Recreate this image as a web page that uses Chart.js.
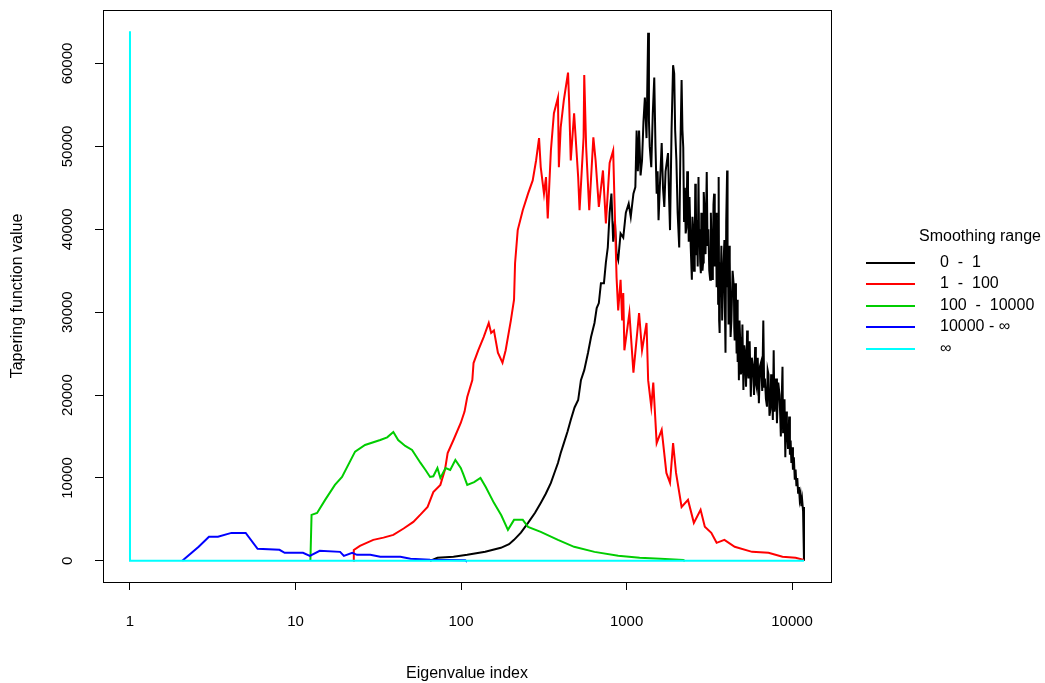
<!DOCTYPE html>
<html>
<head>
<meta charset="utf-8">
<script src="https://cdn.jsdelivr.net/npm/chart.js@4.4.1/dist/chart.umd.min.js"></script>
<style>
    body { margin: 0; background: #fff; }
    #wrap { width: 1045px; height: 683px; position: relative; }
</style>
</head>
<body>
<div id="wrap"><canvas id="tapering"></canvas></div>
<script>
// eigenvalue index (x) and tapering value (y)
const blackX = [65, 72, 90, 109, 140, 174, 195, 209, 230, 254, 280, 303, 325, 349, 365, 385, 400, 418, 440, 460, 485, 510, 530, 555, 585, 610, 640, 660, 680, 700, 730, 750, 770, 790, 810, 830, 850, 870, 890, 920, 955, 990, 1030, 1060, 1100, 1130, 1150, 1170, 1190, 1215, 1240, 1265, 1290, 1320, 1350, 1365, 1380, 1410, 1440, 1470, 1495, 1520, 1540, 1560, 1595, 1630, 1660, 1690, 1720, 1780, 1805, 1830, 1870, 1910, 1940, 1965,
    2000, 2035, 2080, 2115, 2150, 2175, 2200, 2225, 2250, 2275, 2300, 2325, 2350, 2375, 2400, 2440, 2480, 2500, 2530, 2555, 2580, 2600, 2620, 2640, 2660, 2690, 2720, 2740, 2760, 2785, 2810, 2830, 2850, 2875, 2900, 2925, 2950, 3000, 3050, 3085, 3120, 3160, 3200, 3230, 3260, 3290, 3320, 3350, 3380, 3410, 3440, 3470, 3500, 3525, 3550, 3575, 3600, 3625, 3650, 3675, 3700, 3740, 3780, 3840, 3900, 3930, 3960, 4000, 4050, 4075, 4100, 4120, 4140, 4170, 4200, 4250, 4300, 4370, 4450, 4475, 4500, 4540, 4580, 4620, 4650, 4680, 4700, 4735, 4770, 4810, 4850, 4900, 4950, 5010, 5080, 5140, 5200, 5270, 5350, 5400, 5450, 5540, 5630, 5710, 5800, 5890, 5980, 6040, 6100, 6200, 6300, 6400, 6500, 6600, 6700, 6780, 6850, 6950, 7050, 7120, 7200, 7300, 7400, 7470, 7550, 7650, 7740, 7820, 7900, 8000, 8100, 8250, 8400, 8550, 8750, 8820, 8900, 9000, 9100, 9200, 9300, 9450, 9600, 9700, 9800, 9900, 10000, 10120, 10250, 10380, 10500, 10620, 10750, 10870, 11000, 11120, 11250, 11380, 11500, 11650, 11800, 11800];
const blackY = [0, 360, 480, 720, 1100, 1570, 2000, 2530, 3400, 4580, 5800, 6990, 8100, 9400, 10500, 11800, 13000, 14200, 15600, 17000, 18500, 19400, 21800, 23000, 25100, 27000, 28700, 30500, 31100, 33500, 33500, 36000, 37800, 42000, 44300, 38500, 41000, 37000, 36300, 39500, 39000, 42000, 43100, 41500, 44300, 45100, 51900, 47000, 51900, 46500, 48300, 53000, 55900, 51000, 63700, 53100, 50000, 47500, 54000, 58300, 50000, 44300, 47000, 41100, 46000, 50400, 45000, 42700, 47000, 49200, 44000, 39900, 52000, 59800, 58800, 52000,
    48300, 42000, 37800, 50000, 58000, 52000, 49900, 41000, 45000, 39500, 40200, 47000, 45000, 38500, 43900, 38000, 33900, 41500, 40000, 35000, 36000, 45500, 44000, 37000, 41100, 35500, 46300, 39000, 40000, 36000, 34700, 42000, 40000, 35000, 36000, 44500, 43000, 37000, 46900, 38000, 40000, 35000, 33900, 42000, 38000, 34000, 36000, 43000, 44300, 35500, 38000, 42000, 33000, 41000, 40000, 31000, 46300, 29000, 27500, 36000, 33000, 38000, 29000, 35000, 38700, 30000, 25100, 41000, 47100, 33000, 36000, 28500, 31500, 38000, 36300, 27000, 29000, 35000, 33000, 28000, 26600, 33500, 30000, 25000, 31500, 29500, 24000, 28000, 21800, 29000, 27000, 22500, 23000, 28500, 20600, 26000, 25000, 21000, 27800, 23000, 22000, 26500, 19800, 24500, 23500, 20000, 25800, 21500, 21000, 24500, 19000, 23500, 24000, 20500, 29000, 21000, 22000, 19500, 18600, 23000, 22500, 17500, 18300, 22500, 21000, 17000, 25400, 18000, 19000, 22000, 16600, 21500, 20000, 15000, 23400, 15500, 16000, 19500, 12500, 18000, 16000, 13500, 17400, 12800, 14500, 11800, 13700, 11000, 12500, 9800, 11000, 9000, 10000, 8200, 8900, 7400, 8000, 6600, 7350, 6000, 6500, 0];

const redX = [22.3, 22.5, 24.5, 29.5, 34, 39, 45, 51.5, 57, 62.8, 68, 75, 80, 83, 90, 99.6, 105, 109, 117, 119, 127, 137, 147, 152, 158, 167, 178, 186, 200, 209, 212, 220, 236, 254, 271, 284, 296, 303, 317, 326, 334, 349, 364, 385, 390, 400, 418, 443, 450, 460, 482, 510, 520, 550, 555, 570, 595, 630, 650, 680, 720, 750, 790, 830, 845, 870, 890, 920, 940, 955, 970, 1040, 1100, 1190, 1240, 1320, 1350, 1410, 1450, 1520, 1630, 1740, 1830, 1910, 1990, 2150, 2350, 2550, 2800, 2970, 3250, 3500, 3900, 4500, 5730, 7200, 8750, 10500, 11800];
const redY = [0, 1300, 1810, 2530, 2800, 3130, 3900, 4700, 5600, 6500, 8300, 9160, 11000, 13000, 14580, 16630, 18000, 19760, 21800, 23860, 25400, 27000, 28700, 27500, 27800, 25100, 23900, 25400, 29000, 31500, 35900, 39900, 42300, 44300, 45900, 48300, 51000, 47500, 44300, 46300, 41300, 49500, 54000, 55900, 47500, 52300, 55600, 58900, 55200, 48300, 54000, 46300, 42300, 51100, 58600, 49900, 42300, 51100, 48300, 42700, 47100, 40700, 48000, 49500, 43500, 34200, 30200, 33900, 29000, 32300, 25400, 29900, 22700, 29900, 25400, 28700, 21800, 18600, 21500, 14200, 15800, 10600, 9400, 14200, 10600, 6500, 7350, 4580, 6150, 4100, 3370, 2170, 2530, 1690, 1080, 960, 480, 360, 100];

const greenX = [12.3, 12.5, 13.5, 15.1, 17.3, 19.1, 22.9, 26.3, 32.5, 35.8, 39, 41.7, 46, 50.6, 56.9, 61, 65, 68, 72, 75, 80.6, 86, 92.4, 99.6, 103, 109, 120, 131, 141, 158, 175, 192, 209, 236, 254, 303, 385, 482, 640, 890, 1200, 1600, 2200, 2250];
const greenY = [0, 5540, 5780, 7350, 9160, 10120, 13170, 13980, 14580, 14900, 15540, 14580, 13860, 13380, 11810, 10960, 10120, 10200, 11200, 10000, 11200, 10960, 12170, 11200, 10500, 9160, 9500, 10000, 8900, 6990, 5500, 3740, 4940, 4940, 4100, 3500, 2530, 1690, 1080, 600, 360, 240, 100, 0];

const blueX = [2.07, 2.6, 3.0, 3.4, 4.1, 5.0, 5.9, 8.0, 8.6, 11.1, 12.2, 14.0, 18.6, 19.6, 22.0, 23.5, 28.3, 32.5, 43, 49.5, 65, 106, 107];
const blueY = [0, 1700, 2900, 2900, 3370, 3370, 1450, 1330, 960, 960, 600, 1200, 1080, 600, 960, 720, 720, 480, 480, 240, 120, 60, 0];

const cyanX = [1, 1, 11800];
const cyanY = [63900, 0, 0];

const seriesLabels = ['0  -  1', '1  -  100', '100  -  10000', '10000 - \u221e', '\u221e'];
const seriesColors = ['#000000', '#ff0000', '#00cd00', '#0000ff', '#00ffff'];
const xTicks = [1, 10, 100, 1000, 10000];
const yTicks = [0, 10000, 20000, 30000, 40000, 50000, 60000];

const toPoints = (xs, ys) => xs.map((x, i) => ({x: x, y: ys[i]}));
const seriesData = [
    toPoints(blackX, blackY),
    toPoints(redX, redY),
    toPoints(greenX, greenY),
    toPoints(blueX, blueY),
    toPoints(cyanX, cyanY)
];

const fontFamily = "'Liberation Sans', Arial, sans-serif";
Chart.defaults.font.family = fontFamily;
Chart.defaults.font.size = 16;
Chart.defaults.color = '#000';

// plot frame like R's box()
const boxPlugin = {
    id: 'box',
    afterDatasetsDraw(chart) {
        const a = chart.chartArea;
        const ctx = chart.ctx;
        ctx.save();
        ctx.strokeStyle = '#000';
        ctx.lineWidth = 1;
        ctx.strokeRect(Math.round(a.left) + 0.5, Math.round(a.top) + 0.5, Math.round(a.right - a.left), Math.round(a.bottom - a.top));
        ctx.restore();
    }
};

// R style legend on the right
const sideLegend = {
    id: 'sideLegend',
    afterDraw(chart) {
        const ctx = chart.ctx;
        const rows = [263, 284, 306, 327, 349];
        ctx.save();
        ctx.font = '16px ' + fontFamily;
        ctx.fillStyle = '#000';
        ctx.textBaseline = 'middle';
        ctx.textAlign = 'center';
        ctx.fillText('Smoothing range', 980, 237);
        ctx.textAlign = 'left';
        chart.data.datasets.forEach((ds, i) => {
            ctx.strokeStyle = ds.borderColor;
            ctx.lineWidth = 2;
            ctx.beginPath();
            ctx.moveTo(866, rows[i]);
            ctx.lineTo(915, rows[i]);
            ctx.stroke();
            ctx.fillText(ds.label, 940, rows[i]);
        });
        ctx.restore();
    }
};

new Chart(document.getElementById('tapering'), {
    type: 'line',
    data: {
        datasets: seriesData.map((pts, i) => ({
            label: seriesLabels[i],
            data: pts,
            borderColor: seriesColors[i],
            backgroundColor: seriesColors[i],
            borderWidth: 2,
            pointRadius: 0,
            tension: 0,
            fill: false,
            order: 5 - i
        }))
    },
    options: {
        responsive: true,
        maintainAspectRatio: false,
        animation: false,
        layout: { padding: { top: 10, right: 214, left: 0, bottom: 0 } },
        plugins: {
            legend: { display: false },
            tooltip: { enabled: false }
        },
        scales: {
            x: {
                type: 'logarithmic',
                min: 0.687,
                max: 17180,
                afterBuildTicks: (scale) => { scale.ticks = xTicks.map(v => ({value: v})); },
                afterFit: (scale) => {
                    scale.height = 101;
                    scale.paddingLeft = 0;
                    scale.paddingRight = 0;
                },
                ticks: {
                    autoSkip: false,
                    maxRotation: 0,
                    padding: 23,
                    font: { size: 15 },
                    callback: (v) => String(v)
                },
                grid: { display: true, drawOnChartArea: false, tickLength: 8, color: '#000' },
                border: { display: false },
                title: { display: true, text: 'Eigenvalue index', padding: { top: 0, bottom: 0 } }
            },
            y: {
                type: 'linear',
                min: -2556,
                max: 66456,
                afterBuildTicks: (scale) => { scale.ticks = yTicks.map(v => ({value: v})); },
                afterFit: (scale) => {
                    scale.width = 103;
                    scale.paddingTop = 0;
                    scale.paddingBottom = 0;
                },
                ticks: {
                    autoSkip: false,
                    minRotation: 90,
                    maxRotation: 90,
                    crossAlign: 'center',
                    padding: 6,
                    font: { size: 15 },
                    callback: (v) => String(v)
                },
                grid: { display: true, drawOnChartArea: false, tickLength: 8, color: '#000' },
                border: { display: false },
                title: { display: true, text: 'Tapering function value', padding: { top: 8, bottom: 0 } }
            }
        }
    },
    plugins: [boxPlugin, sideLegend]
});
</script>
</body>
</html>
